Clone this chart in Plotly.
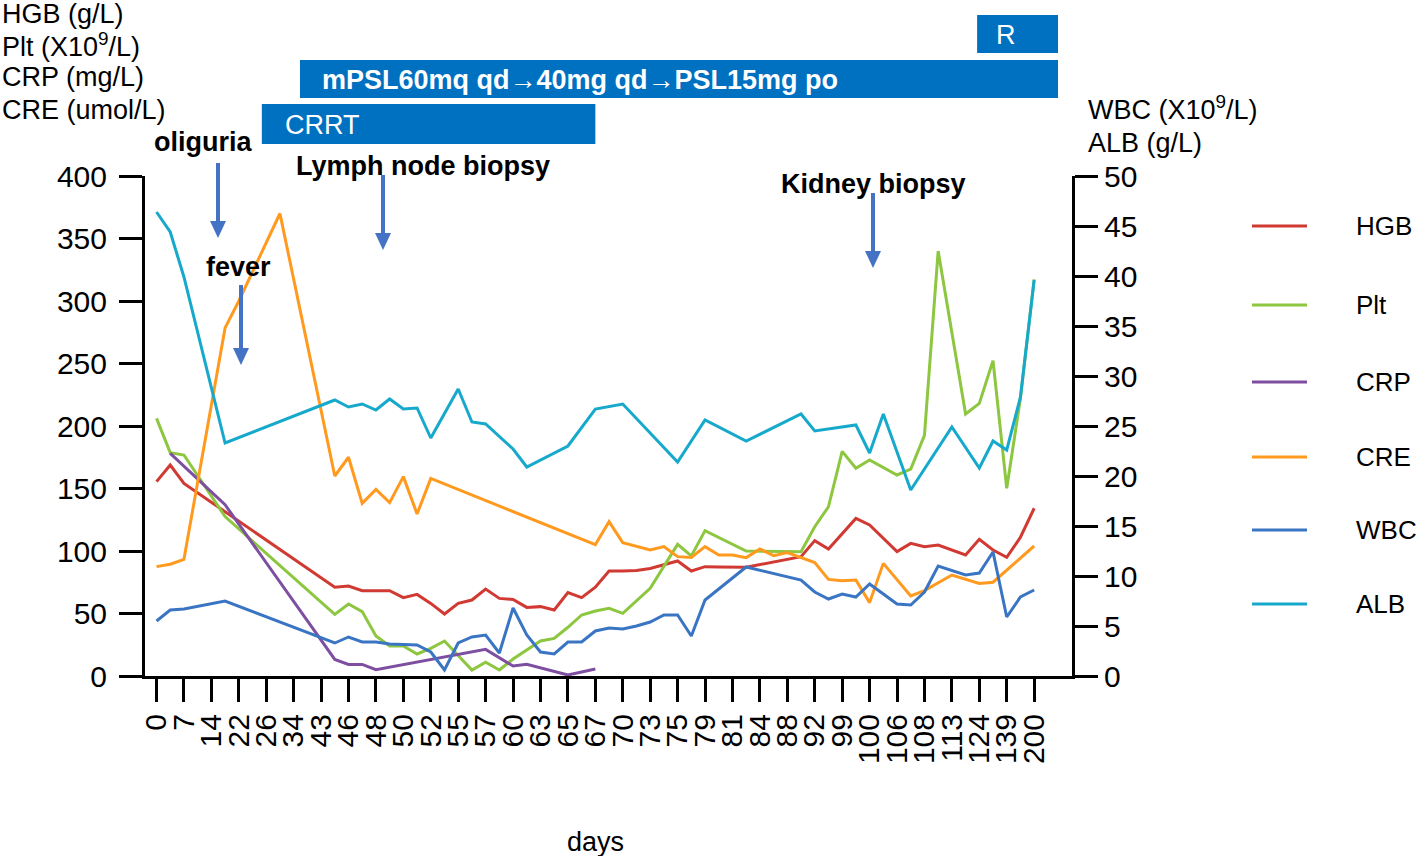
import plotly.graph_objects as go

# ---------------- data ----------------
day_labels = ["0", "7", "14", "22", "26", "34", "43", "46", "48", "50", "52", "55", "57",
              "60", "63", "65", "67", "70", "73", "75", "79", "81", "84", "88", "92", "99",
              "100", "106", "108", "113", "124", "139", "200"]

N = None
HGB = [155.5, 168.8, 154.1, N, N, N, N, N, N, N, N, N, N, 71.0, 72.0, 68.3, 68.3, 68.3, 62.7,
       65.3, 58.1, 49.6, 58.1, 60.8, 69.6, 62.1, 61.3, 54.9, 55.5, 52.8, 66.7, 62.7, 71.0, 84.0,
       84.0, 84.5, 86.0, 88.8, 92.0, 84.0, 87.5, 87.3, 87.1, 87.0, N, N, N, 95.5, 108.3, 101.6,
       N, 126.1, 120.8, N, 99.5, 106.1, 103.5, 104.8, N, 96.8, 109.3, 100.8, 95.0, 111.0, 134.2]
Plt = [206.1, 178.7, 176.8, N, N, 127.5, N, N, N, N, N, N, N, 49.3, 57.6, 51.5, 32.0, 24.0, 24.0,
       17.6, 22.1, 28.0, N, 4.8, 11.0, 4.8, 13.6, 20.8, 28.0, 30.1, 39.0, 48.8, 52.0, 54.1, 50.1,
       N, 70.1, N, 105.3, 96.0, 116.3, N, N, 100.0, 100.0, 100.0, 100.0, 99.5, 119.4, 135.4, 179.7,
       166.2, 172.8, N, 160.8, 165.5, 192.5, 340.0, N, 209.6, 218.1, 252.3, 150.1, 222.1, 317.3]
CRP = [N, 178.1, N, N, N, 137.0, N, N, N, N, N, N, N, 13.3, 9.3, 9.3, 5.0, N, N, N, N, N, N, N,
       21.3, 14.5, 8.0, 9.3, N, N, 0.8, N, 5.6, N, N, N, N, N, N, N, N, N, N, N, N, N, N, N, N, N,
       N, N, N, N, N, N, N, N, N, N, N, N, N, N, N]
CRE = [87.5, 89.4, 93.3, N, N, 278.5, 300.0, N, N, 370.0, N, N, N, 160.0, 175.0, 138.1, 149.3,
       138.7, 159.5, 129.6, 158.1, N, N, N, N, N, N, N, N, N, N, N, 105.0, 123.5, 106.7, N, 100.8,
       103.5, 95.5, 94.9, 103.5, 96.8, 96.8, 94.7, 101.6, 96.3, 98.7, 94.7, 90.7, 77.3, 76.3, 76.8,
       58.7, 90.1, N, 64.0, 68.3, N, 80.8, N, 74.1, 75.0, N, N, 104.0]
WBC = [5.5, 6.6, 6.7, N, N, 7.5, N, N, N, N, N, N, N, 3.3, 3.9, 3.4, 3.4, 3.2, 3.15, 3.1, 2.4, 0.6,
       3.3, 3.9, 4.1, 2.3, 6.8, 4.1, 2.4, 2.2, 3.4, 3.4, 4.5, 4.8, 4.7, 5.0, 5.4, 6.1, 6.1, 4.0, 7.6,
       N, N, 10.9, N, N, N, 9.6, 8.4, 7.7, 8.2, 7.9, 9.2, N, 7.2, 7.1, 8.4, 11.0, N, 10.1, 10.3,
       12.4, 5.9, 7.9, 8.6]
ALB = [46.4, 44.4, 39.9, N, N, 23.3, N, N, N, N, N, N, N, 27.6, 26.9, 27.2, 26.6, 27.7, 26.7, 26.8,
       23.8, N, 28.7, 25.4, 25.2, 24.0, 22.7, 20.9, N, N, 23.0, N, 26.7, N, 27.2, N, N, N, 21.4, N,
       25.6, N, N, 23.5, N, N, N, 26.2, 24.5, N, N, 25.1, 22.3, 26.2, N, 18.6, N, N, 24.9, N, 20.8,
       23.5, 22.6, 27.9, 39.6]

series_names = ["HGB", "Plt", "CRP", "CRE", "WBC", "ALB"]
series_values = [HGB, Plt, CRP, CRE, WBC, ALB]
series_axis = ["y", "y", "y", "y", "y2", "y2"]
series_colors = ["#D03A33", "#8DC63F", "#7E4FA0", "#FF9A1F", "#3A75C4", "#17A9CC"]

left_title_lines = ["HGB (g/L)", "Plt (X10<sup>9</sup>/L)", "CRP (mg/L)", "CRE (umol/L)"]
right_title_lines = ["WBC (X10<sup>9</sup>/L)", "ALB (g/L)"]

events = ["oliguria", "fever", "Lymph node biopsy", "Kidney biopsy"]
treatments = ["R", "mPSL60mq qd\u219240mg qd\u2192PSL15mg po", "CRRT"]

# ---------------- layout helpers ----------------
W, H = 1418, 856
L, R, T, B = 145, 346, 176, 180
PW, PH = W - L - R, H - T - B
FONT = "Liberation Sans, Arial, sans-serif"
TXT = 27


def px(xp):
    return (xp - L) / PW


def py(yp):
    return (H - B - yp) / PH


def label(text, x, y, size=TXT, color="black", xanchor="center", yanchor="middle"):
    return dict(text=text, x=px(x), y=py(y), xref="paper", yref="paper",
                xanchor=xanchor, yanchor=yanchor, showarrow=False,
                font=dict(family=FONT, size=size, color=color))


xpos = [i * 0.5 for i in range(len(HGB))]

fig = go.Figure()
for name, vals, ax, col in zip(series_names, series_values, series_axis, series_colors):
    fig.add_trace(go.Scatter(x=xpos, y=vals, name=name, yaxis=ax, mode="lines",
                             connectgaps=True, line=dict(color=col, width=3),
                             showlegend=False))

shapes = []
annotations = []

# treatment bars
bar_color = "#0070C0"
bars = [
    (29.92, 32.87, 15, 53),
    (5.23, 32.87, 60, 98),
    (3.84, 16.0, 104, 144),
]
for (x0, x1, y0, y1) in bars:
    shapes.append(dict(type="rect", xref="x", yref="paper", x0=x0, x1=x1,
                       y0=py(y1), y1=py(y0), fillcolor=bar_color,
                       line=dict(width=0), layer="above"))
annotations.append(label(treatments[0], 1006, 35, color="white"))
annotations.append(label("<b>" + treatments[1] + "</b>", 320, 80, color="white", xanchor="left"))
annotations.append(label(treatments[2], 283, 125, color="white", xanchor="left"))

# axis title lines
for txt, yy in zip(left_title_lines, [14, 45, 77, 110]):
    annotations.append(label(txt, 0, yy, xanchor="left"))
for txt, yy in zip(right_title_lines, [108, 143]):
    annotations.append(label(txt, 1086, yy, xanchor="left"))
annotations.append(label("days", 595, 842))

# event labels
label_pos = [(203, 142), (238, 267), (423, 166), (873, 184)]
for txt, (xx, yy) in zip(events, label_pos):
    annotations.append(label("<b>" + txt + "</b>", xx, yy))

# event arrows: tip x, tip y, total length (pixels)
arrow_color = "#4472C4"
arrow_tips = [(218, 238, 75), (241, 365, 80), (383, 250, 75), (873, 268, 75)]
head_len, head_half = 17, 8
for (xx, yy, ln) in arrow_tips:
    shapes.append(dict(type="line", xref="paper", yref="paper", x0=px(xx), x1=px(xx),
                       y0=py(yy - ln), y1=py(yy - head_len + 1),
                       line=dict(color=arrow_color, width=4)))
    path = "M {a},{b} L {c},{d} L {e},{f} Z".format(
        a=px(xx - head_half), b=py(yy - head_len), c=px(xx + head_half), d=py(yy - head_len),
        e=px(xx), f=py(yy))
    shapes.append(dict(type="path", xref="paper", yref="paper", path=path,
                       fillcolor=arrow_color, line=dict(width=0)))

# manual legend
leg_y = [226, 305, 382, 457, 530, 604]
for name, col, yy in zip(series_names, series_colors, leg_y):
    shapes.append(dict(type="line", xref="paper", yref="paper", x0=px(1252), x1=px(1307),
                       y0=py(yy), y1=py(yy), line=dict(color=col, width=3)))
    annotations.append(label(name, 1354, yy, size=26, xanchor="left"))

axis_common = dict(showgrid=False, zeroline=False, showline=True, linecolor="black",
                   linewidth=3, ticks="outside", ticklen=23, tickwidth=3, tickcolor="black",
                   tickfont=dict(family=FONT, size=30, color="black"))

fig.update_layout(
    width=W, height=H,
    margin=dict(l=L, r=R, t=T, b=B, autoexpand=False),
    paper_bgcolor="white", plot_bgcolor="white",
    xaxis=dict(range=[-0.42, 33.38], tickvals=list(range(len(day_labels))),
               ticktext=day_labels, tickangle=-90, **axis_common),
    yaxis=dict(range=[0, 400], tickvals=list(range(0, 401, 50)), ticklabelstandoff=6,
               **axis_common),
    yaxis2=dict(range=[0, 50], tickvals=list(range(0, 51, 5)), overlaying="y", side="right",
                anchor="x", **axis_common),
    shapes=shapes, annotations=annotations, showlegend=False,
)

fig.write_html("out.html", config={"displayModeBar": False},
               post_script="document.body.style.margin='0px';")
